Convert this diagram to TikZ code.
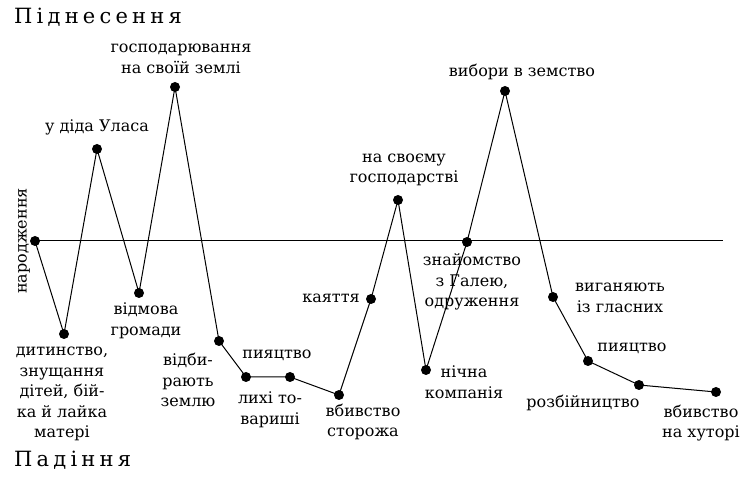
\documentclass[tikz,border=0pt]{standalone}
\usepackage{fontspec}
\setmainfont{DejaVu Serif}
\newfontfamily\spacedfont[LetterSpace=20]{DejaVu Serif}
\begin{document}
\begin{tikzpicture}[x=1pt,y=-1pt,
  dot/.style={circle,fill=black,inner sep=0pt,minimum size=10pt},
  lab/.style={font=\fontsize{16}{20.5}\selectfont, align=center, inner sep=0pt},
  ttl/.style={font=\spacedfont\fontsize{21}{24}\selectfont, anchor=west, inner sep=0pt},
  ln/.style={line width=1pt}]
\useasboundingbox[fill=white] (0,0) rectangle (756,481);
% points
\node[dot] (p1) at (35,241) {};
\node[dot] (p2) at (64,334) {};
\node[dot] (p3) at (97,149) {};
\node[dot] (p4) at (139,293) {};
\node[dot] (p5) at (175,87) {};
\node[dot] (p6) at (219,341) {};
\node[dot] (p7) at (246,377) {};
\node[dot] (p8) at (290,377) {};
\node[dot] (p9) at (339,395) {};
\node[dot] (p10) at (371,299) {};
\node[dot] (p11) at (398,200) {};
\node[dot] (p12) at (426,370) {};
\node[dot] (p13) at (467,242) {};
\node[dot] (p14) at (505,91) {};
\node[dot] (p15) at (553,297) {};
\node[dot] (p16) at (588,361) {};
\node[dot] (p17) at (639,385) {};
\node[dot] (p18) at (716,392) {};
\coordinate (axR) at (723,241);
% axis
\draw[ln] (p1.center) -- (axR);
% polyline
\draw[ln] (p1.center) -- (p2.center) -- (p3.center) -- (p4.center) -- (p5.center) -- (p6.center) -- (p7.center) -- (p8.center) -- (p9.center) -- (p10.center) -- (p11.center) -- (p12.center) -- (p13.center) -- (p14.center) -- (p15.center) -- (p16.center) -- (p17.center) -- (p18.center);
% titles
\node[ttl] (up) at (14,17) {Піднесення};
\node[ttl] (down) at (14,460) {Падіння};
% labels
\node[lab,rotate=90] (l1) at (24,241) {народження};
\node[lab] (l2) at (62,394) {дитинство,\\знущання\\дітей, бій-\\ка й лайка\\матері};
\node[lab] (l3) at (97,127) {у діда Уласа};
\node[lab] (l4) at (146,321) {відмова\\громади};
\node[lab] (l5) at (181,59) {господарювання\\на своїй землі};
\node[lab] (l6) at (188,380) {відби-\\рають\\землю};
\node[lab] (l7) at (270,410) {лихі то-\\вариші};
\node[lab] (l8) at (277,355) {пияцтво};
\node[lab] (l9) at (363,422) {вбивство\\сторожа};
\node[lab] (l10) at (331,298) {каяття};
\node[lab] (l11) at (404,170) {на своєму\\господарстві};
\node[lab] (l12) at (464,382) {нічна\\компанія};
\node[lab] (l13) at (472,282) {знайомство\\з Галею,\\одруження};
\node[lab] (l14) at (522,72) {вибори в земство};
\node[lab] (l15) at (620,298) {виганяють\\із гласних};
\node[lab] (l16) at (632,348) {пияцтво};
\node[lab] (l17) at (583,403) {розбійництво};
\node[lab] (l18) at (701,423) {вбивство\\на хуторі};
\end{tikzpicture}
\end{document}
